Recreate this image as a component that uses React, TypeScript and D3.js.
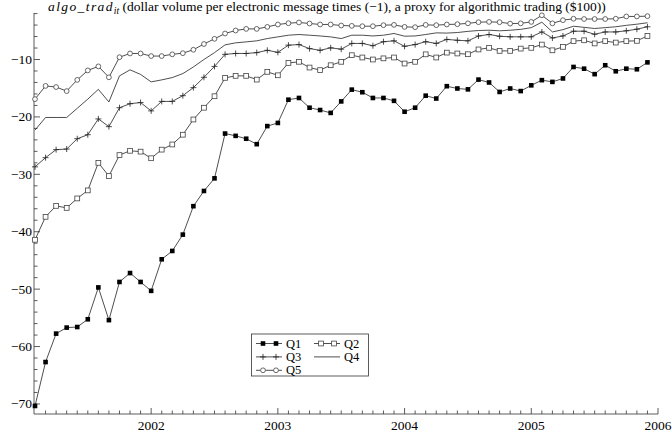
import React from "react";
import * as d3 from "d3";

// Monthly observations, Feb 2001 .. Dec 2005
const startYear = 2001;
const startMonth = 1; // 0-based month index (Feb)
const q1 = [-70.35, -62.7, -57.75, -56.7, -56.6, -55.25, -49.7, -55.4, -48.75, -47.2, -48.75, -50.3, -44.8, -43.35, -40.5, -35.55, -32.9, -30.7,
  -22.9, -23.3, -23.8, -24.75, -21.6, -21.05, -17.0, -16.7, -18.4, -18.8, -19.3, -17.3, -15.25, -15.7, -16.7, -16.7, -17.2, -19.1, -18.4, -16.3, -16.8,
  -14.65, -15.05, -15.2, -13.5, -14.0, -15.65, -15.05, -15.5, -14.5, -13.6, -13.9, -13.3, -11.3, -11.6, -12.55, -11.0, -12.05, -11.6, -11.7, -10.5];
const q2 = [-41.4, -37.4, -35.5, -35.85, -34.2, -32.8, -28.0, -30.3, -26.65, -25.9, -26.05, -27.2, -25.7, -24.8, -23.1, -20.45, -18.4, -16.4,
  -13.2, -12.85, -12.85, -13.5, -12.15, -12.75, -10.6, -10.4, -11.4, -11.85, -11.0, -10.4, -9.25, -9.65, -10.0, -9.8, -9.65, -10.7, -10.4, -9.1, -9.65,
  -8.8, -8.95, -9.08, -8.25, -7.97, -8.5, -8.5, -8.1, -7.97, -7.4, -8.4, -7.8, -6.8, -6.65, -7.2, -6.8, -7.05, -6.8, -6.75, -5.9];
const q3 = [-28.7, -27.1, -25.7, -25.6, -23.8, -23.1, -20.35, -21.7, -18.4, -17.7, -17.5, -18.95, -17.3, -17.3, -16.3, -14.9, -13.1, -11.2,
  -9.1, -8.95, -8.95, -8.8, -8.4, -8.75, -7.5, -7.4, -8.1, -8.4, -7.97, -8.2, -7.2, -7.2, -7.6, -6.9, -6.75, -7.7, -7.4, -6.9, -7.2,
  -6.5, -6.65, -6.75, -5.9, -5.65, -5.95, -6.05, -6.05, -6.05, -5.2, -6.25, -5.9, -5.07, -5.07, -5.6, -5.2, -5.2, -5.0, -4.72, -4.3];
const q4 = [-22.3, -20.1, -20.1, -20.1, -18.5, -16.9, -15.2, -17.4, -12.85, -11.8, -12.6, -13.9, -13.55, -13.15, -12.45, -11.3, -10.0, -8.8,
  -7.45, -7.1, -6.93, -6.75, -6.35, -6.06, -5.77, -5.65, -5.77, -5.9, -6.06, -6.35, -5.77, -5.77, -5.9, -5.77, -5.47, -5.94, -5.9, -5.65, -5.36,
  -5.4, -5.3, -5.1, -4.95, -4.9, -5.0, -4.9, -4.75, -4.45, -3.5, -5.2, -4.8, -4.2, -4.4, -4.6, -4.45, -4.3, -4.05, -3.85, -3.6];
const q5 = [-16.9, -14.6, -14.8, -15.5, -13.55, -11.9, -11.2, -13.1, -9.6, -8.95, -8.95, -9.4, -9.4, -9.1, -8.9, -8.3, -7.3, -6.4,
  -5.47, -4.95, -4.67, -4.67, -4.32, -3.9, -3.68, -3.55, -3.73, -3.9, -3.9, -4.08, -4.14, -4.2, -4.2, -4.02, -3.97, -4.32, -4.37, -3.97, -4.02,
  -3.9, -3.85, -3.7, -3.5, -3.45, -3.5, -3.75, -3.7, -3.45, -2.3, -3.7, -3.15, -2.9, -2.95, -2.95, -2.95, -2.9, -2.5, -2.5, -2.45];

const seriesNames = ["Q1", "Q2", "Q3", "Q4", "Q5"];
const yearTicks = [2002, 2003, 2004, 2005, 2006];
const yMajorTicks = [-70, -60, -50, -40, -30, -20, -10];

const FONT = "Liberation Serif";
const INK = "#222";

type Kind = "fsq" | "osq" | "plus" | "none" | "circ";
const kinds: Kind[] = ["fsq", "osq", "plus", "none", "circ"];

function Marker({ kind, cx, cy }: { kind: Kind; cx: number; cy: number }) {
  if (kind === "fsq") return <rect x={cx - 2.3} y={cy - 2.3} width={4.6} height={4.6} fill="#000" />;
  if (kind === "osq") return <rect x={cx - 2.4} y={cy - 2.4} width={4.8} height={4.8} fill="#fff" stroke="#444" strokeWidth={0.8} />;
  if (kind === "plus") return <path d={`M${cx - 3},${cy}H${cx + 3}M${cx},${cy - 3}V${cy + 3}`} stroke={INK} strokeWidth={0.8} />;
  if (kind === "circ") return <circle cx={cx} cy={cy} r={2.4} fill="#fff" stroke="#444" strokeWidth={0.8} />;
  return null;
}

export default function App() {
  const W = 672, H = 436;
  const series = [q1, q2, q3, q4, q5];
  const dates = q1.map((_, i) => startYear + (startMonth + i) / 12);
  const x = d3.scaleLinear().domain([startYear + startMonth / 12, 2006]).range([35, 658]);
  const y = d3.scaleLinear().domain([-71.75, -1.9]).range([414, 13]);
  const line = d3.line<number>().x((_, i) => x(dates[i])).y((d) => y(d));

  const x0 = 34, yBase = 414, yTop = 13, xEnd = 658;
  const monthTicks = d3.range(startYear * 12 + startMonth + 1, 2006 * 12 + 1).map((m) => m / 12);
  const yMinor = d3.range(-70, -1.9, 2);

  const lx = 256, ly = 343.5, rowH = 13.4;
  const legendPos = [
    [lx, ly], [lx + 58, ly], [lx, ly + rowH], [lx + 58, ly + rowH], [lx, ly + 2 * rowH],
  ];

  return (
    <svg width={W} height={H} style={{ position: "absolute", left: 0, top: 0, display: "block", background: "#fff" }}>
      {/* title */}
      <text x={48} y={11} fontFamily={FONT} fontSize={13.5} fill="#000">
        <tspan fontStyle="italic" letterSpacing={1.4}>algo_trad</tspan>
        <tspan fontStyle="italic" fontSize={9.5} dy={3}>it</tspan>
        <tspan dy={-3}> (dollar volume per electronic message times (−1), a proxy for algorithmic trading ($100))</tspan>
      </text>

      {/* axes */}
      <g stroke="#333" strokeWidth={0.8} fill="none">
        <line x1={x0} y1={yBase} x2={xEnd} y2={yBase} />
        <line x1={x0} y1={yBase} x2={x0} y2={yTop} />
        {monthTicks.map((t) => {
          const major = Math.abs(t - Math.round(t)) < 1e-6;
          return <line key={"mx" + t} x1={x(t)} x2={x(t)} y1={yBase} y2={yBase - (major ? 6 : 3.5)} />;
        })}
        {yMinor.map((v) => {
          const major = v % 10 === 0;
          return <line key={"my" + v} x1={x0} x2={x0 + (major ? 6 : 3.5)} y1={y(v)} y2={y(v)} />;
        })}
      </g>
      <g fontFamily={FONT} fontSize={13.5} fill="#000">
        {yearTicks.map((t) => (
          <text key={"xl" + t} x={x(t)} y={430} textAnchor="middle">{t}</text>
        ))}
        {yMajorTicks.map((v) => (
          <text key={"yl" + v} x={32} y={y(v) + 4.5} textAnchor="end">{"−" + Math.abs(v)}</text>
        ))}
      </g>

      {/* series */}
      {series.map((s, k) => (
        <g key={seriesNames[k]}>
          <path d={line(s) || ""} fill="none" stroke={INK} strokeWidth={0.8} />
          {s.map((v, i) => (
            <Marker key={i} kind={kinds[k]} cx={x(dates[i])} cy={y(v)} />
          ))}
        </g>
      ))}

      {/* legend */}
      <rect x={251.5} y={334} width={117} height={42} fill="#fff" stroke="#333" strokeWidth={0.8} />
      {seriesNames.map((n, k) => {
        const [px, py] = legendPos[k];
        return (
          <g key={"lg" + n}>
            <line x1={px} x2={px + 26} y1={py} y2={py} stroke={INK} strokeWidth={0.8} />
            <Marker kind={kinds[k]} cx={px + 7} cy={py} />
            <Marker kind={kinds[k]} cx={px + 20} cy={py} />
            <text x={px + 30} y={py + 4} fontFamily={FONT} fontSize={12.5} fill="#000">{n}</text>
          </g>
        );
      })}
    </svg>
  );
}
